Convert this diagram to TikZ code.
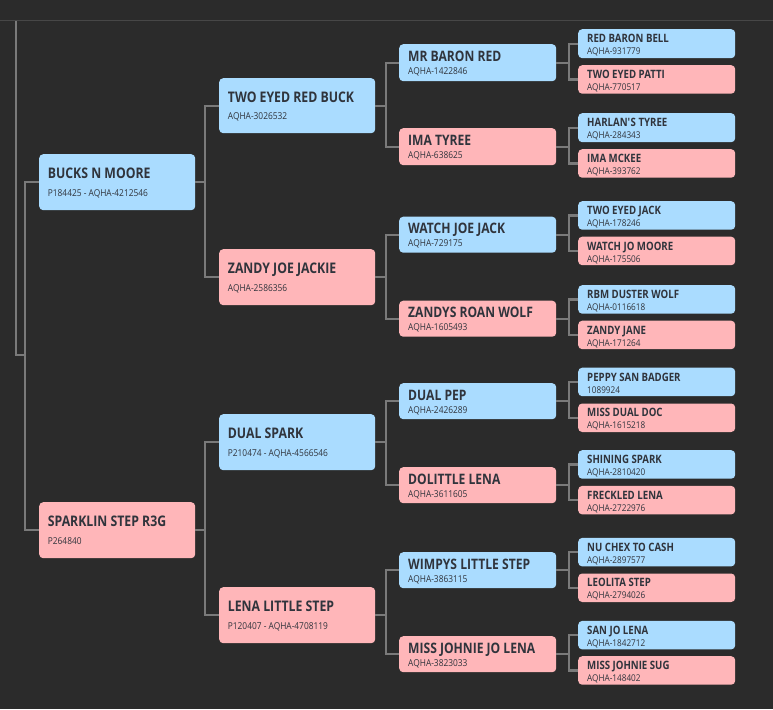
\documentclass[tikz,border=0pt]{standalone}
\usepackage{fontspec}
\setmainfont{Open Sans}[FakeStretch=0.88]
\newfontfamily\horsenamefont{Open Sans}[FakeStretch=0.84]
\usetikzlibrary{calc}
\definecolor{bgdark}{HTML}{2B2B2B}
\definecolor{topline}{HTML}{474747}
\definecolor{linegray}{HTML}{7A7A7A}
\definecolor{sireblue}{HTML}{AADCFF}
\definecolor{dampink}{HTML}{FFB6B9}
\definecolor{txtdark}{HTML}{30343C}
\tikzset{
  conn/.style={draw=linegray, line width=2.2pt},
  horse/.style={rounded corners=4pt, inner sep=0pt, anchor=north west},
  sire/.style={horse, fill=sireblue},
  dam/.style={horse, fill=dampink},
  txt/.style={anchor=base west, inner sep=0pt, text=txtdark},
  nmA/.style={txt, xshift=8.7pt, yshift=3.6pt, font=\horsenamefont\fontsize{14.6}{16}\selectfont\bfseries},
  idA/.style={txt, xshift=8.7pt, yshift=-14pt, font=\fontsize{9.5}{11}\selectfont},
  nmC/.style={txt, xshift=9pt, yshift=0.8pt, font=\horsenamefont\fontsize{14.4}{16}\selectfont\bfseries},
  idC/.style={txt, xshift=9pt, yshift=-11.8pt, font=\fontsize{9.5}{11}\selectfont},
  nmD/.style={txt, xshift=9pt, yshift=0.8pt, font=\horsenamefont\fontsize{11.5}{13}\selectfont\bfseries},
  idD/.style={txt, xshift=9pt, yshift=-11.2pt, font=\fontsize{9.3}{11}\selectfont},
}
% #1 name, #2 sire/dam, #3 x, #4 y, #5 w, #6 h, #7 text level, #8 horse, #9 id
\newcommand\horsebox[9]{%
  \node[#2, minimum width=#5pt, minimum height=#6pt] (#1) at (#3,#4) {};
  \node[nm#7] (#1-n) at (#1.west) {#8};
  \node[id#7] (#1-i) at (#1.west) {#9};
}
\begin{document}
\begin{tikzpicture}[x=1pt,y=-1pt]
\fill[bgdark] (0,0) rectangle (773,709);
\useasboundingbox (0,0) rectangle (773,709);
\draw[topline, line width=1pt] (0,20.5) -- (773,20.5);

% generation 1
\horsebox{g1a}{sire}{39}{154}{156}{56}{A}{BUCKS N MOORE}{P184425 - AQHA-4212546}
\horsebox{g1b}{dam}{39}{502}{156}{56}{A}{SPARKLIN STEP R3G}{P264840}
% generation 2
\horsebox{g2a}{sire}{219}{78}{156}{55}{A}{TWO EYED RED BUCK}{AQHA-3026532}
\horsebox{g2b}{dam}{219}{249}{156}{56}{A}{ZANDY JOE JACKIE}{AQHA-2586356}
\horsebox{g2c}{sire}{219}{414}{156}{56}{A}{DUAL SPARK}{P210474 - AQHA-4566546}
\horsebox{g2d}{dam}{219}{587}{156}{56}{A}{LENA LITTLE STEP}{P120407 - AQHA-4708119}
% generation 3
\horsebox{g3a}{sire}{399}{44}{157}{37}{C}{MR BARON RED}{AQHA-1422846}
\horsebox{g3b}{dam}{399}{128}{157}{37}{C}{IMA TYREE}{AQHA-638625}
\horsebox{g3c}{sire}{399}{216.5}{157}{36}{C}{WATCH JOE JACK}{AQHA-729175}
\horsebox{g3d}{dam}{399}{300.5}{157}{36}{C}{ZANDYS ROAN WOLF}{AQHA-1605493}
\horsebox{g3e}{sire}{399}{383}{157}{36}{C}{DUAL PEP}{AQHA-2426289}
\horsebox{g3f}{dam}{399}{467}{157}{36}{C}{DOLITTLE LENA}{AQHA-3611605}
\horsebox{g3g}{sire}{399}{552}{157}{36}{C}{WIMPYS LITTLE STEP}{AQHA-3863115}
\horsebox{g3h}{dam}{399}{636}{157}{36}{C}{MISS JOHNIE JO LENA}{AQHA-3823033}
% generation 4
\horsebox{g4a}{sire}{578}{29}{157}{29}{D}{RED BARON BELL}{AQHA-931779}
\horsebox{g4b}{dam}{578}{65}{157}{28.5}{D}{TWO EYED PATTI}{AQHA-770517}
\horsebox{g4c}{sire}{578}{113}{157}{29}{D}{HARLAN\textquotesingle S TYREE}{AQHA-284343}
\horsebox{g4d}{dam}{578}{149}{157}{28.5}{D}{IMA MCKEE}{AQHA-393762}
\horsebox{g4e}{sire}{578}{201}{157}{28.5}{D}{TWO EYED JACK}{AQHA-178246}
\horsebox{g4f}{dam}{578}{236.5}{157}{28.5}{D}{WATCH JO MOORE}{AQHA-175506}
\horsebox{g4g}{sire}{578}{285}{157}{28.5}{D}{RBM DUSTER WOLF}{AQHA-0116618}
\horsebox{g4h}{dam}{578}{320.5}{157}{28.5}{D}{ZANDY JANE}{AQHA-171264}
\horsebox{g4i}{sire}{578}{367.5}{157}{28.5}{D}{PEPPY SAN BADGER}{1089924}
\horsebox{g4j}{dam}{578}{403.3}{157}{28.5}{D}{MISS DUAL DOC}{AQHA-1615218}
\horsebox{g4k}{sire}{578}{450}{157}{28.5}{D}{SHINING SPARK}{AQHA-2810420}
\horsebox{g4l}{dam}{578}{485.7}{157}{28.5}{D}{FRECKLED LENA}{AQHA-2722976}
\horsebox{g4m}{sire}{578}{537.7}{157}{28.5}{D}{NU CHEX TO CASH}{AQHA-2897577}
\horsebox{g4n}{dam}{578}{573.3}{157}{28.5}{D}{LEOLITA STEP}{AQHA-2794026}
\horsebox{g4o}{sire}{578}{620.7}{157}{28.5}{D}{SAN JO LENA}{AQHA-1842712}
\horsebox{g4p}{dam}{578}{656}{157}{28.5}{D}{MISS JOHNIE SUG}{AQHA-148402}

% junction columns
\coordinate (root) at (16,21);
\coordinate (j0) at (25,0);
\coordinate (j1) at (205,0);
\coordinate (j2) at (386,0);
\coordinate (j3) at (569,0);

\draw[conn] (root) -- (16,355) -- (25,355);
\newcommand\family[4]{%
  \draw[conn] (#2.west) -- (#2.west -| #4) -- (#3.west -| #4) -- (#3.west);
  \draw[conn] (#1.east) -- (#1.east -| #4);
}
\draw[conn] (g1a.west) -- (g1a.west -| j0) -- (g1b.west -| j0) -- (g1b.west);
\family{g1a}{g2a}{g2b}{j1}
\family{g1b}{g2c}{g2d}{j1}
\family{g2a}{g3a}{g3b}{j2}
\family{g2b}{g3c}{g3d}{j2}
\family{g2c}{g3e}{g3f}{j2}
\family{g2d}{g3g}{g3h}{j2}
\family{g3a}{g4a}{g4b}{j3}
\family{g3b}{g4c}{g4d}{j3}
\family{g3c}{g4e}{g4f}{j3}
\family{g3d}{g4g}{g4h}{j3}
\family{g3e}{g4i}{g4j}{j3}
\family{g3f}{g4k}{g4l}{j3}
\family{g3g}{g4m}{g4n}{j3}
\family{g3h}{g4o}{g4p}{j3}
\end{tikzpicture}
\end{document}
